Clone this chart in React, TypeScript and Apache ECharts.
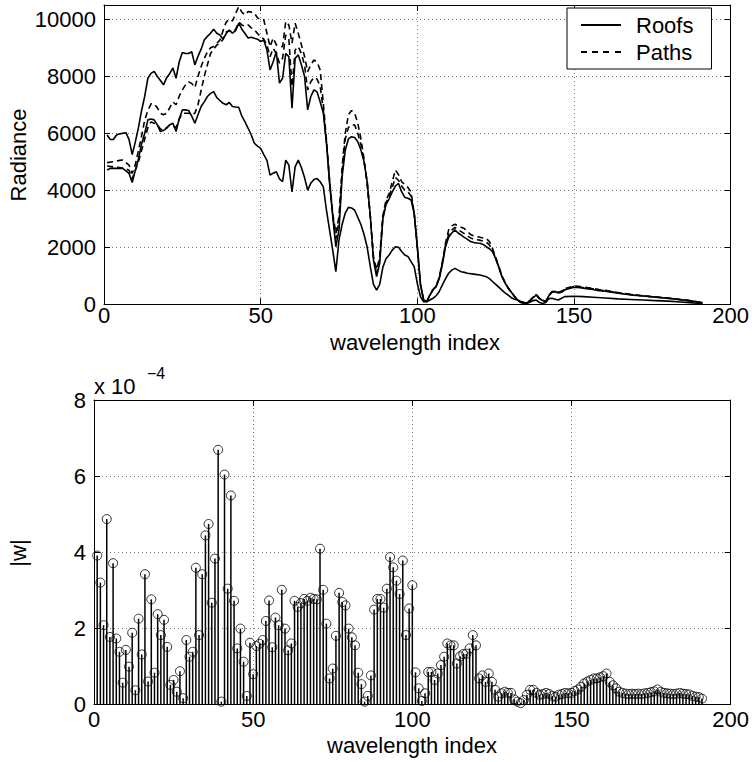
import React, { useEffect, useRef } from 'react';
import * as echarts from 'echarts';

// ---- Top panel: radiance spectra, [band index, radiance] ----
const roofsUpper: [number, number][] = [
  [1,5940],[2,5780],[3,5780],[4,5940],[5,5980],[7,6020],[8,5780],[9,5250],[10,5700],[11,6200],[12,6800],[13,7300],[14,7930],[15,8100],[16,8170],[17,8000],[18,7850],[19,7700],[20,7950],[21,8100],[22,8290],[23,7930],[24,8500],[25,8830],[26,8800],[27,8800],[28,8860],[29,8400],[30,8700],[31,8950],[32,9275],[33,9400],[34,9510],[35,9650],[36,9510],[37,9450],[38,9300],[39,9500],[40,9620],[41,9510],[42,9600],[43,9860],[44,9650],[45,9500],[46,9340],[47,9370],[48,9330],[49,9300],[50,9220],[51,9270],[52,8920],[53,8220],[54,8510],[55,8870],[56,7760],[57,7930],[58,8800],[59,8690],[60,6880],[61,8630],[62,8750],[63,8400],[64,8000],[65,6820],[66,7290],[67,7520],[68,7450],[69,7100],[70,6710],[71,5650],[72,4250],[73,3080],[74,2020],[75,2610],[76,4480],[77,5400],[78,5800],[79,5880],[80,5850],[81,5700],[82,5410],[83,5000],[84,4300],[85,3080],[86,1560],[87,970],[88,1440],[89,3000],[90,3500],[91,3700],[92,3940],[93,4150],[94,4240],[95,3950],[96,3750],[97,3720],[98,3660],[99,3190],[100,2020],[101,700],[102,150],[103,90],[104,320],[105,500],[106,620],[107,900],[108,1400],[109,2020],[110,2350],[111,2500],[112,2610],[113,2500],[114,2430],[115,2350],[116,2280],[117,2200],[118,2170],[119,2150],[120,2140],[121,2100],[122,2020],[123,1950],[124,1850],[125,1600],[126,1300],[127,970],[128,750],[129,560],[130,420],[131,270],[132,150],[133,90],[134,60],[135,50],[136,130],[137,240],[138,320],[139,200],[140,130],[141,90],[142,300],[143,420],[144,440],[145,400],[146,420],[147,500],[148,540],[150,600],[152,580],[154,550],[156,520],[158,480],[160,460],[163,410],[166,360],[169,320],[172,290],[175,260],[178,230],[181,200],[184,160],[187,120],[189,90],[191,50]
];
const pathsUpper: [number, number][] = [
  [1,4970],[3,5000],[5,5050],[6,5060],[8,4880],[9,4590],[10,4900],[11,5400],[12,5900],[13,6470],[14,6800],[15,7030],[16,7030],[17,6900],[18,6700],[19,6650],[20,6700],[21,6900],[22,7100],[23,7000],[24,7300],[25,7520],[26,7700],[27,7800],[28,7750],[29,7600],[30,8000],[31,8340],[32,8630],[33,8850],[34,9000],[35,9040],[36,9150],[37,9270],[38,9600],[39,9900],[40,10000],[41,9940],[42,10200],[43,10440],[44,10250],[45,10150],[46,10270],[47,10250],[48,10210],[49,10050],[50,9980],[51,9980],[52,9510],[53,9040],[54,9340],[55,9100],[56,9050],[57,9040],[58,9920],[59,9800],[60,9160],[61,9860],[62,9510],[63,9100],[64,8700],[65,8160],[66,8400],[67,8570],[68,8500],[69,8220],[70,7050],[71,5770],[72,4360],[73,3190],[74,2490],[75,3080],[76,4820],[77,6000],[78,6650],[79,6800],[80,6700],[81,6350],[82,5800],[83,5100],[84,4200],[85,3080],[86,1680],[87,1210],[88,1680],[89,3100],[90,3650],[91,3880],[92,4300],[93,4710],[94,4550],[95,4300],[96,4200],[97,4100],[98,3940],[99,3190],[100,2020],[101,700],[102,150],[103,90],[104,330],[105,520],[106,650],[107,950],[108,1500],[109,2150],[110,2610],[111,2750],[112,2810],[113,2750],[114,2700],[115,2660],[116,2550],[117,2450],[118,2400],[120,2350],[122,2310],[123,2200],[124,1960],[125,1650],[126,1330],[127,1000],[128,770],[129,580],[130,430],[131,280],[132,160],[133,90],[134,60],[135,50],[136,140],[137,260],[138,340],[139,210],[140,140],[141,100],[142,320],[143,450],[144,470],[145,420],[146,460],[147,540],[148,580],[150,640],[152,620],[154,590],[156,560],[158,520],[160,490],[163,430],[166,380],[169,340],[172,300],[175,270],[178,240],[181,210],[184,170],[187,130],[189,95],[191,55]
];
const pathsLower: [number, number][] = [
  [1,4850],[3,4820],[5,4800],[7,4750],[8,4700],[9,4400],[10,4700],[11,5000],[12,5400],[13,5800],[14,6200],[15,6400],[16,6350],[17,6300],[18,6150],[19,6100],[20,6200],[21,6300],[22,6250],[23,6200],[24,6500],[25,6700],[26,6700],[27,6700],[28,6650],[29,6700],[30,7000],[31,7500],[32,8000],[33,8400],[34,8800],[35,8950],[36,9100],[37,9150],[38,9300],[39,9550],[40,9600],[41,9550],[42,9650],[43,9900],[44,9800],[45,9750],[46,9800],[47,9700],[48,9630],[49,9500],[50,9390],[51,9300],[52,9100],[53,8690],[54,8980],[55,8800],[56,8460],[57,8630],[58,9450],[59,9300],[60,7640],[61,8920],[62,9040],[63,8800],[64,8400],[65,7520],[66,7810],[67,7960],[68,7900],[69,7640],[70,6820],[71,5700],[72,4300],[73,3150],[74,2300],[75,2900],[76,4650],[77,5800],[78,6200],[79,6300],[80,6290],[81,6000],[82,5600],[83,5000],[84,4300],[85,3080],[86,1600],[87,1100],[88,1600],[89,3050],[90,3550],[91,3800],[92,4100],[93,4450],[94,4350],[95,4150],[96,4000],[97,3950],[98,3800],[99,3190],[100,2020],[101,700],[102,150],[103,90],[104,325],[105,510],[106,630],[107,920],[108,1450],[109,2080],[110,2450],[111,2600],[112,2700],[113,2620],[114,2550],[115,2480],[116,2400],[117,2330],[118,2280],[120,2250],[122,2180],[123,2080],[124,1900],[125,1620],[126,1310],[127,985],[128,760],[129,570],[130,425],[131,275],[132,155],[133,90],[134,60],[135,50],[136,135],[137,250],[138,330],[139,205],[140,135],[141,95],[142,310],[143,435],[144,455],[145,390],[146,440],[147,520],[148,560],[150,620],[152,600],[154,570],[156,540],[158,500],[160,475],[163,420],[166,370],[169,330],[172,295],[175,265],[178,235],[181,205],[184,165],[187,125],[189,92],[191,52]
];
const roofsLower: [number, number][] = [
  [1,4710],[2,4770],[4,4770],[6,4770],[8,4590],[9,4270],[10,4700],[11,5100],[12,5630],[13,6000],[14,6470],[15,6500],[16,6470],[17,6300],[18,6060],[19,6100],[20,6175],[21,6300],[22,6350],[23,6060],[24,6500],[25,6820],[26,6820],[27,6800],[28,6600],[29,6350],[30,6650],[31,6940],[32,7100],[33,7290],[34,7400],[35,7460],[36,7250],[37,7150],[38,7050],[39,7000],[40,7080],[41,6940],[42,6920],[43,6910],[44,6600],[45,6400],[46,6175],[47,5940],[48,5650],[49,5550],[50,5470],[51,5250],[52,5050],[53,4530],[54,4600],[55,4650],[56,4400],[57,4300],[58,5060],[59,4880],[60,3940],[61,4820],[62,5060],[63,4800],[64,4450],[65,4000],[66,4250],[67,4380],[68,4410],[69,4300],[70,4120],[71,3300],[72,2600],[73,1900],[74,1145],[75,2260],[76,2800],[77,3200],[78,3400],[79,3380],[80,3300],[81,3050],[82,2800],[83,2450],[84,2000],[85,1320],[86,700],[87,500],[88,700],[89,1300],[90,1600],[91,1730],[92,1900],[93,2020],[94,2000],[95,1850],[96,1730],[97,1680],[98,1500],[99,1320],[100,730],[101,270],[102,90],[103,90],[104,150],[105,210],[106,300],[107,450],[108,680],[109,900],[110,1090],[111,1200],[112,1260],[113,1200],[114,1145],[115,1120],[116,1090],[118,1060],[120,1030],[122,970],[123,900],[124,800],[125,700],[126,600],[127,500],[128,400],[129,320],[130,230],[131,180],[132,150],[133,60],[134,30],[135,30],[136,80],[137,130],[138,150],[139,60],[140,30],[141,60],[142,200],[143,210],[144,180],[145,150],[147,270],[150,280],[153,270],[156,250],[160,220],[164,190],[168,170],[172,150],[176,130],[180,110],[184,80],[188,50],[191,30]
];

// ---- Bottom panel: |w| for bands 1..191, in units of 1e-4 ----
const absW: number[] = [
  3.91,3.2,2.08,4.87,1.77,3.71,1.73,1.38,0.57,1.43,
  0.99,1.88,0.37,2.25,1.31,3.42,0.6,2.76,0.83,2.37,
  1.82,2.22,1.51,0.51,0.64,0.33,0.87,0.16,1.69,1.25,
  1.38,3.59,1.82,3.42,4.44,4.74,2.67,3.83,6.69,0.07,
  6.04,3.04,5.49,2.72,1.47,1.99,1.12,0.22,1.62,0.79,
  1.53,1.59,1.69,2.19,2.73,1.5,2.28,2.08,3.01,1.99,
  1.42,1.6,2.72,2.56,2.66,2.77,2.72,2.8,2.77,2.76,
  4.09,3.01,2.12,0.68,0.94,1.8,2.93,2.69,2.6,1.99,
  1.76,1.55,0.83,0.53,0.07,0.22,0.76,2.49,2.77,2.77,
  2.54,3.04,3.87,3.6,3.25,2.9,3.78,1.82,2.52,3.13,
  0.84,0.42,0.09,0.29,0.85,0.85,0.64,0.81,1.03,1.25,
  1.6,1.55,1.55,1.07,1.26,1.32,1.33,1.47,1.82,1.55,
  0.68,0.76,0.59,0.81,0.59,0.38,0.2,0.29,0.33,0.3,
  0.3,0.13,0.07,0.03,0.11,0.25,0.38,0.38,0.3,0.25,
  0.27,0.3,0.27,0.22,0.2,0.25,0.27,0.3,0.29,0.3,
  0.35,0.39,0.46,0.55,0.6,0.64,0.68,0.68,0.71,0.74,
  0.81,0.59,0.5,0.42,0.33,0.3,0.28,0.27,0.28,0.27,
  0.28,0.27,0.29,0.3,0.32,0.34,0.39,0.33,0.3,0.29,
  0.28,0.27,0.28,0.3,0.28,0.27,0.26,0.22,0.2,0.19,
  0.15
];

const legendNames = ['Roofs', 'Paths'];
const xAxisTitle = 'wavelength index';
const topYTitle = 'Radiance';
const bottomYTitle = '|w|';

const FONT = "'Liberation Sans', Arial, Helvetica, sans-serif";
const SOLID_ICON = 'path://M0,0h40v2h-40z';
const DASHED_ICON = 'path://M0,0h6v2h-6zM11,0h6v2h-6zM22,0h6v2h-6zM34,0h6v2h-6z';

export default function App() {
  const ref = useRef<HTMLDivElement>(null);
  useEffect(() => {
    if (!ref.current) return;
    const chart = echarts.init(ref.current, undefined, { renderer: 'svg' });

    const dotted = { show: true, lineStyle: { type: [1, 3] as any, color: '#777', width: 1 } };
    const tick = { show: true, inside: true, length: 6, lineStyle: { color: '#000', width: 1 } };
    const line = { show: true, onZero: false, lineStyle: { color: '#000', width: 1 } };
    const lbl = { color: '#000', fontSize: 22, fontFamily: FONT };
    const plain = (v: number) => String(v);

    const stemData = absW.map((v, i) => [i + 1, v]);

    chart.setOption({
      animation: false,
      backgroundColor: '#fff',
      grid: [
        { left: 104, top: 5, width: 627.7, height: 299.3 },
        { left: 94, top: 400, width: 637, height: 304.3 },
      ],
      legend: {
        data: [
          { name: legendNames[0], icon: SOLID_ICON },
          { name: legendNames[1], icon: DASHED_ICON },
        ],
        orient: 'vertical',
        left: 567,
        top: 8,
        backgroundColor: '#fff',
        borderColor: '#000',
        borderWidth: 1,
        borderRadius: 0,
        padding: [6, 18, 6, 14],
        itemGap: 5,
        itemWidth: 40,
        itemHeight: 2,
        itemStyle: { color: '#000', borderWidth: 0 },
        textStyle: { ...lbl, padding: [0, 0, 0, 10] },
      },
      xAxis: [
        { gridIndex: 0, type: 'value', min: 0, max: 200, interval: 50, position: 'bottom',
          axisLine: line, axisTick: tick, splitLine: dotted,
          axisLabel: { ...lbl, margin: 3, lineHeight: 16, formatter: plain } },
        { gridIndex: 0, type: 'value', min: 0, max: 200, interval: 50, position: 'top',
          axisLine: line, axisTick: tick, splitLine: { show: false }, axisLabel: { show: false } },
        { gridIndex: 1, type: 'value', min: 0, max: 200, interval: 50, position: 'bottom',
          axisLine: line, axisTick: tick, splitLine: dotted,
          axisLabel: { ...lbl, margin: 4, formatter: plain } },
        { gridIndex: 1, type: 'value', min: 0, max: 200, interval: 50, position: 'top',
          axisLine: line, axisTick: tick, splitLine: { show: false }, axisLabel: { show: false } },
      ],
      yAxis: [
        { gridIndex: 0, type: 'value', min: 0, max: 10500, interval: 2000, position: 'left',
          axisLine: line, axisTick: tick, splitLine: dotted,
          axisLabel: { ...lbl, margin: 8, showMaxLabel: false, formatter: plain } },
        { gridIndex: 0, type: 'value', min: 0, max: 10500, interval: 2000, position: 'right',
          axisLine: line, axisTick: tick, splitLine: { show: false }, axisLabel: { show: false } },
        { gridIndex: 1, type: 'value', min: 0, max: 8, interval: 2, position: 'left',
          axisLine: line, axisTick: tick, splitLine: dotted,
          axisLabel: { ...lbl, margin: 8, formatter: plain } },
        { gridIndex: 1, type: 'value', min: 0, max: 8, interval: 2, position: 'right',
          axisLine: line, axisTick: tick, splitLine: { show: false }, axisLabel: { show: false } },
      ],
      series: [
        { name: 'Roofs', type: 'line', xAxisIndex: 0, yAxisIndex: 0, data: roofsUpper,
          symbol: 'none', itemStyle: { color: '#000' }, lineStyle: { color: '#000', width: 1.6, type: 'solid' } },
        { name: 'Paths', type: 'line', xAxisIndex: 0, yAxisIndex: 0, data: pathsUpper,
          symbol: 'none', itemStyle: { color: '#000' }, lineStyle: { color: '#000', width: 1.6, type: [6, 4] } },
        { name: 'Paths (2)', type: 'line', xAxisIndex: 0, yAxisIndex: 0, data: pathsLower,
          symbol: 'none', itemStyle: { color: '#000' }, lineStyle: { color: '#000', width: 1.6, type: [6, 4] } },
        { name: 'Roofs (2)', type: 'line', xAxisIndex: 0, yAxisIndex: 0, data: roofsLower,
          symbol: 'none', itemStyle: { color: '#000' }, lineStyle: { color: '#000', width: 1.6, type: 'solid' } },
        { name: '|w| stems', type: 'custom', xAxisIndex: 2, yAxisIndex: 2, data: stemData,
          encode: { x: 0, y: 1 },
          renderItem: (params: any, api: any) => {
            const top = api.coord([api.value(0), api.value(1)]);
            const base = api.coord([api.value(0), 0]);
            return { type: 'line', shape: { x1: base[0], y1: base[1], x2: top[0], y2: top[1] },
              style: { stroke: '#000', lineWidth: 1.5 } };
          } },
        { name: '|w|', type: 'scatter', xAxisIndex: 2, yAxisIndex: 2, data: stemData,
          symbol: 'circle', symbolSize: 9,
          itemStyle: { color: 'rgba(0,0,0,0)', borderColor: '#000', borderWidth: 1 } },
      ],
      graphic: [
        { type: 'text', x: 415, y: 342, style: { text: xAxisTitle, font: `22px ${FONT}`, lineHeight: 16, fill: '#000', align: 'center', verticalAlign: 'middle' } },
        { type: 'text', x: 412, y: 745, style: { text: xAxisTitle, font: `22px ${FONT}`, fill: '#000', align: 'center', verticalAlign: 'middle' } },
        { type: 'text', x: 18, y: 155, rotation: Math.PI / 2, style: { text: topYTitle, font: `22px ${FONT}`, fill: '#000', align: 'center', verticalAlign: 'middle' } },
        { type: 'text', x: 18, y: 553, rotation: Math.PI / 2, style: { text: bottomYTitle, font: `22px ${FONT}`, fill: '#000', align: 'center', verticalAlign: 'middle' } },
        { type: 'text', x: 94, y: 386, style: { text: 'x 10', font: `22px ${FONT}`, fill: '#000', align: 'left', verticalAlign: 'middle' } },
        { type: 'text', x: 147, y: 373, style: { text: '−4', font: `16px ${FONT}`, fill: '#000', align: 'left', verticalAlign: 'middle' } },
      ],
    });
    return () => chart.dispose();
  }, []);
  return <div ref={ref} style={{ position: 'fixed', left: 0, top: 0, width: 752, height: 762, background: '#fff' }} />;
}
